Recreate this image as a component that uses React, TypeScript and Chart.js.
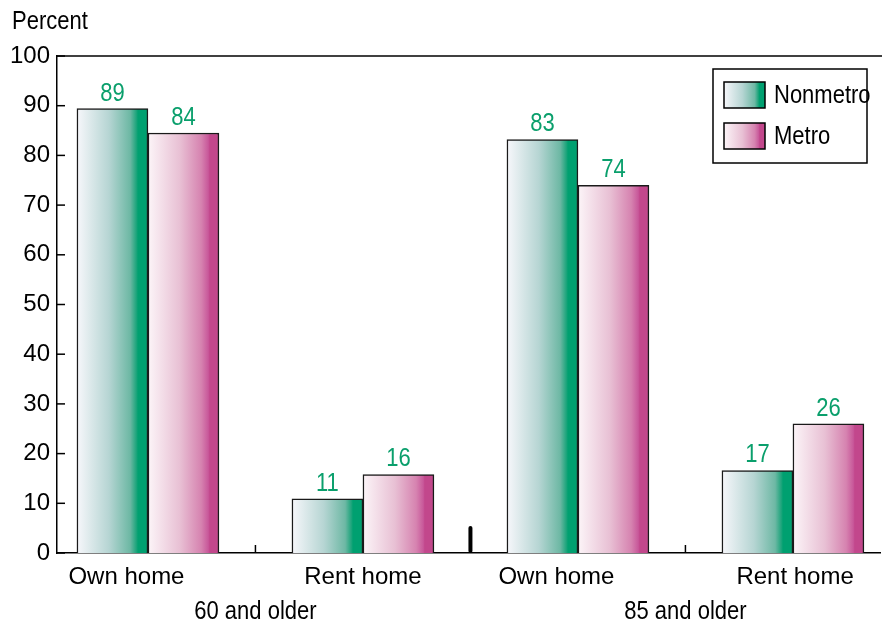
import { useEffect, useRef } from 'react';
import { Chart, registerables } from 'chart.js';
Chart.register(...registerables);

const categories = ['Own home', 'Rent home', 'Own home', 'Rent home'];
const groupLabels = ['60 and older', '85 and older'];
const seriesNames = ['Nonmetro', 'Metro'];
const nonmetro = [89.4, 10.9, 83.2, 16.6];
const metro = [84.5, 15.8, 74.0, 26.0];
const nonmetroLabels = ['89', '11', '83', '17'];
const metroLabels = ['84', '16', '74', '26'];
const yTicks = [0, 10, 20, 30, 40, 50, 60, 70, 80, 90, 100];

// layout: horizontal shift of each category label (in category units)
const LABEL_SHIFT = [-0.1, 0, -0.1, 0.01];

const FONT = "'Liberation Sans', Arial, sans-serif";
const FS = 25;
const TICK_FS = 24;
const SX = 0.88;
const BAR_W = 71;
const GREEN_STOPS: [number, string][] = [
  [0, '#f7f7fb'], [0.45, '#b6d5d3'], [0.75, '#6db8a4'], [0.84, '#1aa47a'], [0.86, '#00a070'], [1, '#00a070'],
];
const PINK_STOPS: [number, string][] = [
  [0, '#fcf5f8'], [0.45, '#e8c0d4'], [0.75, '#d683b0'], [0.85, '#c8589a'], [0.87, '#c2478c'], [1, '#c2478c'],
];
const STOPS = [GREEN_STOPS, PINK_STOPS];

function makeGrad(ctx: CanvasRenderingContext2D, left: number, w: number, stops: [number, string][]) {
  if (!isFinite(left) || !isFinite(w)) return stops[stops.length - 1][1];
  const g = ctx.createLinearGradient(left, 0, left + w, 0);
  stops.forEach(([o, c]) => g.addColorStop(o, c));
  return g;
}

function text(ctx: CanvasRenderingContext2D, s: string, x: number, y: number, align: CanvasTextAlign, base: CanvasTextBaseline) {
  ctx.save();
  ctx.translate(x, y);
  ctx.scale(SX, 1);
  ctx.textAlign = align;
  ctx.textBaseline = base;
  ctx.fillText(s, 0, 0);
  ctx.restore();
}

const gradientPlugin = {
  id: 'gradients',
  beforeDatasetsDraw(chart: any) {
    const ctx = chart.ctx;
    [0, 1].forEach((di) => {
      const meta = chart.getDatasetMeta(di);
      meta.data.forEach((el: any) => {
        const left = el.x - el.width / 2;
        if (el.options && Object.isExtensible(el.options)) {
          el.options.backgroundColor = makeGrad(ctx, left, el.width, STOPS[di]);
        }
      });
    });
  },
};

const overlay = {
  id: 'overlay',
  afterDraw(chart: any) {
    const { ctx, chartArea, scales } = chart;
    const xs = scales.x;
    const ys = scales.y;
    ctx.save();
    ctx.strokeStyle = '#000';
    ctx.lineWidth = 1.5;
    ctx.beginPath();
    ctx.moveTo(chartArea.left, chartArea.top);
    ctx.lineTo(chart.width, chartArea.top);
    ctx.stroke();
    yTicks.forEach((v) => {
      const y = ys.getPixelForValue(v);
      ctx.beginPath();
      ctx.moveTo(chartArea.left, y);
      ctx.lineTo(chartArea.left + 8, y);
      ctx.stroke();
    });
    [0.5, 2.5].forEach((v) => {
      const x = xs.getPixelForValue(v);
      ctx.beginPath();
      ctx.moveTo(x, chartArea.bottom);
      ctx.lineTo(x, chartArea.bottom - 8);
      ctx.stroke();
    });
    {
      const x = xs.getPixelForValue(1.5);
      ctx.lineWidth = 4;
      ctx.lineCap = 'round';
      ctx.beginPath();
      ctx.moveTo(x, chartArea.bottom - 2);
      ctx.lineTo(x, chartArea.bottom - 25);
      ctx.stroke();
      ctx.lineCap = 'butt';
    }
    ctx.font = `${FS}px ${FONT}`;
    ctx.fillStyle = '#0a9f6c';
    [nonmetroLabels, metroLabels].forEach((labels, di) => {
      const meta = chart.getDatasetMeta(di);
      meta.data.forEach((el: any, i: number) => {
        text(ctx, labels[i], el.x, el.y - 8, 'center', 'alphabetic');
      });
    });
    ctx.fillStyle = '#000';
    text(ctx, groupLabels[0], xs.getPixelForValue(0.5), 612, 'center', 'middle');
    text(ctx, groupLabels[1], xs.getPixelForValue(2.5), 612, 'center', 'middle');
    text(ctx, 'Percent', 12, 22, 'left', 'middle');
    const lx = 713, ly = 69, lw = 154, lh = 94;
    ctx.lineWidth = 1.5;
    ctx.strokeStyle = '#000';
    ctx.fillStyle = '#fff';
    ctx.fillRect(lx, ly, lw, lh);
    ctx.strokeRect(lx, ly, lw, lh);
    STOPS.forEach((stops, i) => {
      const sx = 724, sy = i === 0 ? 82 : 123, sw = 41, sh = 26;
      ctx.fillStyle = makeGrad(ctx, sx, sw, stops);
      ctx.fillRect(sx, sy, sw, sh);
      ctx.lineWidth = 1.5;
      ctx.strokeRect(sx, sy, sw, sh);
      ctx.fillStyle = '#000';
      text(ctx, seriesNames[i], 774, sy + sh / 2 + 1, 'left', 'middle');
    });
    ctx.restore();
  },
};

export default function App() {
  const ref = useRef<HTMLCanvasElement>(null);
  useEffect(() => {
    document.body.style.margin = '0';
    const canvas = ref.current!;
    const solid = (di: number) => (c: any) => STOPS[di][STOPS[di].length - 1][1];
    const chart = new Chart(canvas, {
      type: 'bar',
      data: {
        datasets: [
          {
            label: seriesNames[0],
            data: nonmetro.map((v, i) => ({ x: i, y: v })),
            backgroundColor: solid(0),
            borderColor: '#1a1a1a',
            borderWidth: 1.5,
            barThickness: BAR_W,
          },
          {
            label: seriesNames[1],
            data: metro.map((v, i) => ({ x: i, y: v })),
            backgroundColor: solid(1),
            borderColor: '#1a1a1a',
            borderWidth: 1.5,
            barThickness: BAR_W,
          },
        ],
      },
      options: {
        animation: false,
        responsive: false,
        maintainAspectRatio: false,
        layout: { padding: { left: 0, right: 2, top: 56, bottom: 0 } },
        plugins: { legend: { display: false }, tooltip: { enabled: false } },
        scales: {
          x: {
            type: 'linear',
            offset: false,
            min: -0.423,
            max: 3.405,
            grid: { display: false, drawTicks: false },
            border: { display: true, color: '#000', width: 1.5 },
            afterBuildTicks: (s: any) => {
              s.ticks = categories.map((_, i) => ({ value: i + LABEL_SHIFT[i] }));
            },
            afterFit: (s: any) => {
              s.height = 69;
            },
            ticks: {
              autoSkip: false,
              maxRotation: 0,
              padding: 10,
              color: '#000',
              font: { family: FONT, size: TICK_FS },
              callback: (_v: any, i: number) => categories[i] ?? '',
            },
          },
          y: {
            min: 0,
            max: 100,
            grid: { display: false, drawTicks: false },
            border: { display: true, color: '#000', width: 1.5 },
            afterBuildTicks: (s: any) => {
              s.ticks = yTicks.map((v) => ({ value: v }));
            },
            afterFit: (s: any) => {
              s.width = 57;
            },
            ticks: {
              padding: 7,
              color: '#000',
              font: { family: FONT, size: TICK_FS },
            },
          },
        },
      },
      plugins: [gradientPlugin, overlay],
    });
    return () => chart.destroy();
  }, []);
  return (
    <div style={{ width: 882, height: 622 }}>
      <canvas ref={ref} width={882} height={622} style={{ display: 'block', width: 882, height: 622 }} />
    </div>
  );
}
